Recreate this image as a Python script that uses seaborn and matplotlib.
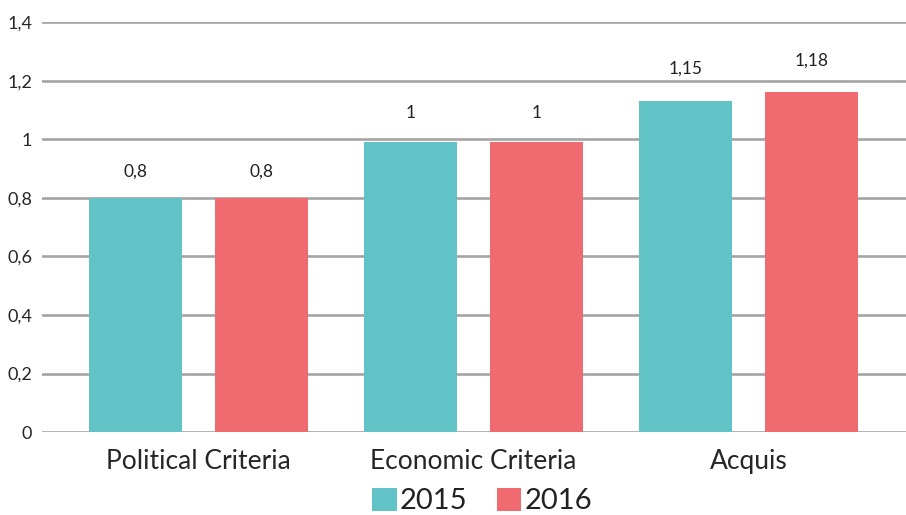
import matplotlib
matplotlib.use('Agg')
import matplotlib.pyplot as plt
import seaborn as sns
import pandas as pd

# values
categories = ['Political Criteria', 'Economic Criteria', 'Acquis']
years = ['2015', '2016']
values_2015 = [0.80, 0.99, 1.13]
values_2016 = [0.80, 0.99, 1.16]
labels_2015 = [0.8, 1, 1.15]
labels_2016 = [0.8, 1, 1.18]
y_ticks = [0, 0.2, 0.4, 0.6, 0.8, 1.0, 1.2, 1.4]

palette = {'2015': '#62C3C7', '2016': '#F06B6F'}
grid_color = '#A6A3A3'

df = pd.DataFrame({
    'category': categories * 2,
    'year': [years[0]] * 3 + [years[1]] * 3,
    'value': values_2015 + values_2016,
    'label': labels_2015 + labels_2016,
})

sns.set_style('white')
plt.rcParams['font.family'] = ['Lato', 'DejaVu Sans']
plt.rcParams['text.color'] = '#222222'

fig = plt.figure(figsize=(9.06, 5.15), dpi=100)
ax = fig.add_axes([0.0464, 0.161, 0.9536, 0.796])

sns.barplot(data=df, x='category', y='value', hue='year', palette=palette,
            width=0.916, gap=0.26, saturation=1, linewidth=0, ax=ax, zorder=3)

# gridlines
for t in y_ticks:
    ax.axhline(t, color=grid_color, lw=1.9, zorder=1)

def fmt(v):
    s = f'{v:g}'
    return s.replace('.', ',')

# value labels, placed from the labelled value
offsets = {'2015': -0.229, '2016': 0.229}
for _, row in df.iterrows():
    i = categories.index(row['category'])
    ax.text(i + offsets[row['year']], row['label'] + 0.09, fmt(row['label']),
            ha='center', va='center', fontsize=12.5, color='#222222')

ax.set_xlim(-0.57, 2.573)
ax.set_ylim(0, 1.4)
ax.set_yticks(y_ticks)
ax.set_yticklabels([fmt(t) for t in y_ticks], fontsize=13)
ax.tick_params(axis='x', labelsize=19, length=0, pad=12)
ax.tick_params(axis='y', length=0, pad=7)
ax.set_xlabel('')
ax.set_ylabel('')
for s in ax.spines.values():
    s.set_visible(False)
ax.patch.set_alpha(0)

handles, lbls = ax.get_legend_handles_labels()
ax.legend_.remove()
fig.legend(handles, lbls, loc='center', bbox_to_anchor=(0.532, 0.027), ncol=2,
           frameon=False, fontsize=21, handlelength=0.85, handleheight=0.85,
           handletextpad=0.1, columnspacing=1.0, borderaxespad=0)

fig.savefig('out.png', dpi=100)
